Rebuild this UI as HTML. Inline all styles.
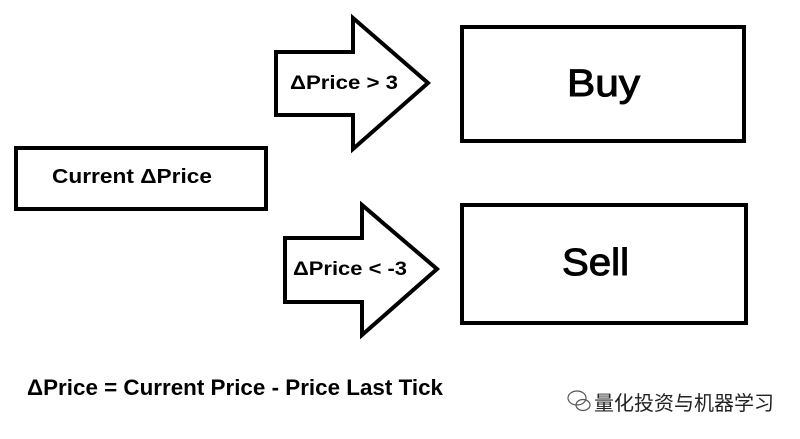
<!DOCTYPE html>
<html><head><meta charset="utf-8"><style>html,body{margin:0;padding:0;background:#fff;width:800px;height:439px;overflow:hidden}</style></head>
<body>
<svg width="800" height="439" viewBox="0 0 800 439" xmlns="http://www.w3.org/2000/svg" font-family="'Liberation Sans', sans-serif" font-weight="bold">
<rect width="800" height="439" fill="#fff"/>
<g fill="#fff" stroke="#000" stroke-width="4" stroke-linejoin="miter">
<rect x="16" y="148" width="250" height="61"/>
<rect x="462" y="27" width="282" height="114"/>
<rect x="462" y="205" width="284" height="118"/>
<polygon points="276,52 353,52 353,18 428,83 353,149 353,115 276,115"/>
<polygon points="285,238 362,238 362,205 437,269 362,335 362,302 285,302"/>
</g>
<text x="52" y="183" font-size="20" textLength="160" lengthAdjust="spacingAndGlyphs">Current ΔPrice</text>
<text x="290" y="89" font-size="19" textLength="108" lengthAdjust="spacingAndGlyphs">ΔPrice &gt; 3</text>
<text x="293" y="275" font-size="19" textLength="114" lengthAdjust="spacingAndGlyphs">ΔPrice &lt; -3</text>
<text x="567" y="96" font-size="38" font-weight="normal" stroke="#000" stroke-width="1" textLength="73" lengthAdjust="spacingAndGlyphs">Buy</text>
<text x="562" y="275" font-size="38" font-weight="normal" stroke="#000" stroke-width="1" textLength="67" lengthAdjust="spacingAndGlyphs">Sell</text>
<text x="27" y="395" font-size="22" textLength="416" lengthAdjust="spacingAndGlyphs">ΔPrice = Current Price - Price Last Tick</text>
<g fill="none" stroke="#555" stroke-width="1.2">
<ellipse cx="577" cy="398" rx="9" ry="7"/>
<ellipse cx="583" cy="405" rx="7" ry="5.5"/>
</g>
<text x="594" y="410" font-size="20" font-weight="normal" fill="#222" font-family="'Liberation Sans','Noto Sans CJK SC',sans-serif" textLength="180" lengthAdjust="spacingAndGlyphs">量化投资与机器学习</text>
</svg>
</body></html>
